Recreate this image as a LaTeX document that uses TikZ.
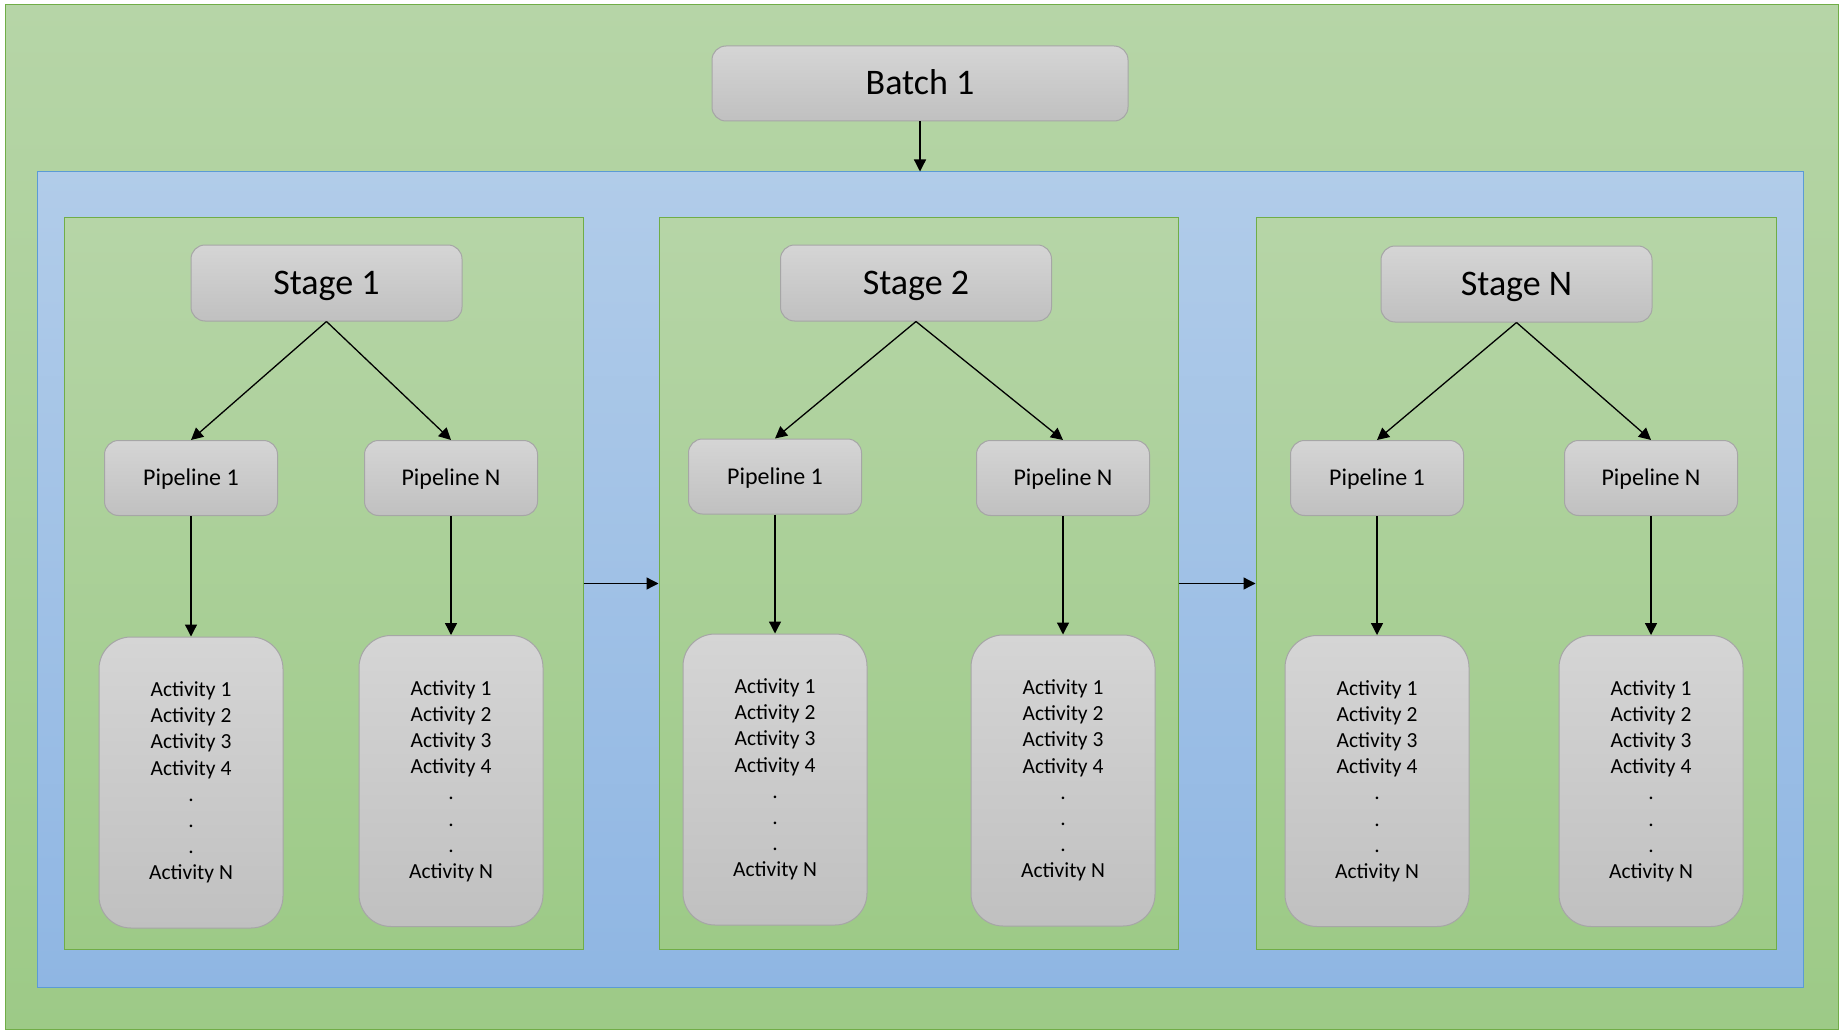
\documentclass[tikz,border=0pt]{standalone}
\usepackage{fontspec}
\setmainfont{Carlito}
\usetikzlibrary{positioning, arrows.meta}
\definecolor{outerTop}{RGB}{182,213,167}
\definecolor{outerBot}{RGB}{157,202,135}
\definecolor{greenLine}{RGB}{112,173,71}
\definecolor{blueTop}{RGB}{177,204,233}
\definecolor{blueBot}{RGB}{143,182,227}
\definecolor{blueLine}{RGB}{91,155,213}
\definecolor{grayTop}{RGB}{213,213,213}
\definecolor{grayBot}{RGB}{192,192,192}
\definecolor{grayLine}{RGB}{166,166,166}
\tikzset{outerbox/.style={draw=greenLine, line width=1pt, top color=outerTop, bottom color=outerBot, inner sep=0pt},
         flowbox/.style={draw=blueLine, line width=1pt, top color=blueTop, bottom color=blueBot, inner sep=0pt},
         stagearea/.style={draw=greenLine, line width=1pt, top color=outerTop, bottom color=outerBot, inner sep=0pt, minimum width=519pt, minimum height=731pt},
         graybox/.style={draw=grayLine, line width=1pt, top color=grayTop, bottom color=grayBot, rounded corners=14pt, inner sep=0pt},
         stagebox/.style={graybox, minimum width=271pt, minimum height=76pt, text height=22.7pt, text depth=0pt, font=\fontsize{36}{42}\selectfont},
         pipebox/.style={graybox, minimum width=173pt, minimum height=75pt, text height=15.1pt, text depth=0pt, font=\fontsize{24}{28}\selectfont},
         actbox/.style={graybox, rounded corners=32pt, minimum width=184pt, minimum height=291pt, align=center, font=\fontsize{21.5}{26.2}\selectfont},
         flow/.style={-{Triangle[length=12pt,width=12pt]}, line width=1.3pt},
        }

\begin{document}
\begin{tikzpicture}[x=1pt,y=-1pt]
        \useasboundingbox[fill=white](0,0) rectangle (1844,1035);
        \node[outerbox, minimum width=1833pt, minimum height=1024pt](outer)at(921.5,517){};
        \node[flowbox, minimum width=1766pt, minimum height=815pt](flow)at(920,579.5){};
        \node[stagebox, minimum width=416pt, minimum height=75pt](batch)at(920,83.5){Batch 1};

        \node[stagearea](area1)at(323.5,583.5){};
        \node[stagearea](area2)at(918.5,583.5){};
        \node[stagearea, minimum width=520pt](area3)at(1516,583.5){};

        % stage 1
        \node[stagebox](s1)at(326.5,283){Stage 1};
        \node[pipebox](s1p1)at(191,478){Pipeline 1};
        \node[pipebox](s1pn)at(451,478){Pipeline N};
        \node[actbox](s1a1)at(191,782.5){Activity 1\\Activity 2\\Activity 3\\Activity 4\\.\\.\\.\\Activity N};
        \node[actbox](s1an)at(451,781){Activity 1\\Activity 2\\Activity 3\\Activity 4\\.\\.\\.\\Activity N};

        % stage 2
        \node[stagebox](s2)at(916,283){Stage 2};
        \node[pipebox](s2p1)at(775,476.5){Pipeline 1};
        \node[pipebox](s2pn)at(1063,478){Pipeline N};
        \node[actbox](s2a1)at(775,779.5){Activity 1\\Activity 2\\Activity 3\\Activity 4\\.\\.\\.\\Activity N};
        \node[actbox](s2an)at(1063,780.5){Activity 1\\Activity 2\\Activity 3\\Activity 4\\.\\.\\.\\Activity N};

        % stage N
        \node[stagebox](s3)at(1516.5,284){Stage N};
        \node[pipebox](s3p1)at(1377,478){Pipeline 1};
        \node[pipebox](s3pn)at(1651,478){Pipeline N};
        \node[actbox](s3a1)at(1377,781){Activity 1\\Activity 2\\Activity 3\\Activity 4\\.\\.\\.\\Activity N};
        \node[actbox](s3an)at(1651,781){Activity 1\\Activity 2\\Activity 3\\Activity 4\\.\\.\\.\\Activity N};

        \draw[flow](batch.south)--(flow.north-|batch.south);
        \draw[flow](area1.east)--(area2.west);
        \draw[flow](area2.east)--(area3.west);

        \draw[flow](s1.south)--(s1p1.north);
        \draw[flow](s1.south)--(s1pn.north);
        \draw[flow](s1p1.south)--(s1a1.north);
        \draw[flow](s1pn.south)--(s1an.north);

        \draw[flow](s2.south)--(s2p1.north);
        \draw[flow](s2.south)--(s2pn.north);
        \draw[flow](s2p1.south)--(s2a1.north);
        \draw[flow](s2pn.south)--(s2an.north);

        \draw[flow](s3.south)--(s3p1.north);
        \draw[flow](s3.south)--(s3pn.north);
        \draw[flow](s3p1.south)--(s3a1.north);
        \draw[flow](s3pn.south)--(s3an.north);
    \end{tikzpicture}
\end{document}
